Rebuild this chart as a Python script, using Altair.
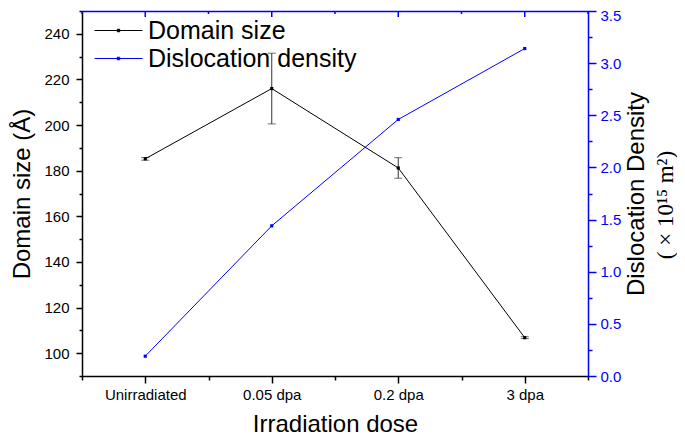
import json
import altair as alt
import pandas as pd

# ---------------- data ----------------
doses = ["Unirradiated", "0.05 dpa", "0.2 dpa", "3 dpa"]
dose_pos = [1, 2, 3, 4]
domain_size = [185.2, 216.0, 181.2, 106.8]
domain_err = [0.6, 15.5, 4.5, 0.4]
dislocation = [0.19, 1.44, 2.46, 3.14]

left_major_ticks = [100, 120, 140, 160, 180, 200, 220, 240]
left_minor_ticks = [90, 110, 130, 150, 170, 190, 210, 230, 250]
right_major_ticks = [0.0, 0.5, 1.0, 1.5, 2.0, 2.5, 3.0, 3.5]
right_minor_ticks = [0.25, 0.75, 1.25, 1.75, 2.25, 2.75, 3.25]
x_minor_ticks = [0.5, 1.5, 2.5, 3.5, 4.5]

series_names = ["Domain size", "Dislocation density"]
series_colors = ["black", "#0000ff"]

right_title_line2 = ["( \u00d7  10\u00b9\u2075  m\u00b2)"]

df = pd.DataFrame({"pos": dose_pos, "dose": doses, "domain": domain_size,
                   "err": domain_err, "disloc": dislocation})
df["lo"] = df["domain"] - df["err"]
df["hi"] = df["domain"] + df["err"]
minor_df = pd.DataFrame({"pos": x_minor_ticks})
title_df = pd.DataFrame({"t": right_title_line2})

# ---------------- styling ----------------
W, H = 506, 365
FONT = "Liberation Sans"
BLUE = "#0000ff"

def xs():
    return alt.Scale(domain=[0.5, 4.5], nice=False, zero=False)

def yls():
    return alt.Scale(domain=[90, 250], nice=False, zero=False)

def yrs():
    return alt.Scale(domain=[0, 3.5], nice=False, zero=False)

color_scale = alt.Scale(domain=series_names, range=series_colors)

label_expr = json.dumps(doses) + "[round(datum.value) - 1]"

legend = alt.Legend(
    orient="none", legendX=24, legendY=7, title=None,
    symbolType="M-4.8,0H4.8M-0.25,-0.25H0.25V0.25H-0.25Z",
    symbolSize=100, symbolStrokeWidth=1, symbolFillColor="transparent",
    labelFont=FONT, labelFontSize=25, labelColor="black",
    labelOffset=17, rowPadding=2, padding=0, labelLimit=400,
)

x_bottom = alt.Axis(
    orient="bottom", values=dose_pos, labelExpr=label_expr, title="Irradiation dose",
    tickSize=7, tickWidth=1.5, tickColor="black", domainWidth=1.5, domainColor="black",
    labelFont=FONT, labelFontSize=15, labelColor="black", labelPadding=4,
    titleFont=FONT, titleFontSize=24, titleFontWeight="normal", titleColor="black",
    titlePadding=10, grid=False,
)
x_bottom_minor = alt.Axis(
    orient="bottom", values=x_minor_ticks, labels=False, domain=False, title=None,
    tickSize=4, tickWidth=1.5, tickColor="black", grid=False,
)
x_top = alt.Axis(
    orient="top", values=dose_pos, labels=False, ticks=False, title=None,
    domainColor=BLUE, domainWidth=1.5, grid=False,
)
y_left = alt.Axis(
    orient="left", values=left_major_ticks, format="d", title="Domain size (\u00c5)",
    tickSize=6, tickWidth=1.5, tickColor="black", domainWidth=1.5, domainColor="black",
    labelFont=FONT, labelFontSize=15, labelColor="black", labelPadding=7,
    titleFont=FONT, titleFontSize=24, titleFontWeight="normal", titleColor="black",
    titlePadding=9, grid=False,
)
y_left_minor = alt.Axis(
    orient="left", values=left_minor_ticks, labels=False, domain=False, title=None,
    tickSize=3, tickWidth=1.5, tickColor="black", grid=False,
)
y_right = alt.Axis(
    orient="right", values=right_major_ticks, format=".1f", title="Dislocation Density",
    tickSize=8, tickWidth=1.5, tickColor=BLUE, domainWidth=1.5, domainColor=BLUE,
    labelFont=FONT, labelFontSize=15, labelColor=BLUE, labelPadding=4,
    labelOffset={"condition": {"test": "datum.value >= 3.5", "value": 4}, "value": 0},
    titleFont=FONT, titleFontSize=24, titleFontWeight="normal", titleColor="black",
    titleAngle=270, titleBaseline="top", titlePadding=4, grid=False,
)
y_right_minor = alt.Axis(
    orient="right", values=right_minor_ticks, labels=False, domain=False, title=None,
    tickSize=4, tickWidth=1.5, tickColor=BLUE, grid=False,
)

base = alt.Chart(df)

# ---------------- domain size (left axis) ----------------
ds_err = base.mark_rule(color="#333333", strokeWidth=1).encode(
    x=alt.X("pos:Q", scale=xs(), axis=None),
    y=alt.Y("lo:Q", scale=yls(), axis=None),
    y2="hi:Q",
)
ds_cap_lo = base.mark_tick(color="#333333", thickness=1, size=8, orient="horizontal").encode(
    x=alt.X("pos:Q", scale=xs(), axis=None),
    y=alt.Y("lo:Q", scale=yls(), axis=None),
)
ds_cap_hi = base.mark_tick(color="#333333", thickness=1, size=8, orient="horizontal").encode(
    x=alt.X("pos:Q", scale=xs(), axis=None),
    y=alt.Y("hi:Q", scale=yls(), axis=None),
)
ds_line = base.transform_calculate(series="'Domain size'").mark_line(
    strokeWidth=1,
    point=alt.OverlayMarkDef(filled=True, size=10, shape="square"),
).encode(
    x=alt.X("pos:Q", scale=xs(), axis=x_bottom),
    y=alt.Y("domain:Q", scale=yls(), axis=y_left),
    color=alt.Color("series:N", scale=color_scale, legend=legend),
)

# ---------------- dislocation density (right axis) ----------------
dd_line = base.transform_calculate(series="'Dislocation density'").mark_line(
    strokeWidth=1,
    point=alt.OverlayMarkDef(filled=True, size=10, shape="square"),
).encode(
    x=alt.X("pos:Q", scale=xs(), axis=None),
    y=alt.Y("disloc:Q", scale=yrs(), axis=y_right),
    color=alt.Color("series:N", scale=color_scale, legend=legend),
)

# ---------------- minor ticks / frame ----------------
left_minor = base.mark_point(opacity=0).encode(
    y=alt.Y("domain:Q", scale=yls(), axis=y_left_minor),
)
right_minor = base.mark_point(opacity=0).encode(
    y=alt.Y("disloc:Q", scale=yrs(), axis=y_right_minor),
)
bottom_minor = alt.Chart(minor_df).mark_point(opacity=0).encode(
    x=alt.X("pos:Q", scale=xs(), axis=x_bottom_minor),
)
top_major = base.mark_rule(color=BLUE, strokeWidth=1.5).encode(
    x=alt.X("pos:Q", scale=xs(), axis=x_top),
    y=alt.value(0), y2=alt.value(6),
)
top_minor = alt.Chart(minor_df).mark_rule(color=BLUE, strokeWidth=1.5).encode(
    x=alt.X("pos:Q", scale=xs(), axis=None),
    y=alt.value(0), y2=alt.value(3),
)
title2 = alt.Chart(title_df).mark_text(
    font="Liberation Serif", fontSize=23, angle=270, align="center",
    baseline="middle", color="black",
).encode(x=alt.value(W + 78), y=alt.value(194), text="t:N")

chart = alt.layer(
    ds_err, ds_cap_lo, ds_cap_hi, ds_line, dd_line,
    left_minor, right_minor, bottom_minor, top_major, top_minor, title2
).resolve_scale(
    y="independent"
).resolve_axis(
    x="independent", y="independent"
).properties(
    width=W, height=H, background="white",
    autosize=alt.AutoSizeParams(type="none"),
    padding={"left": 74, "top": 3, "right": 89, "bottom": 59},
).configure_view(stroke=None)

chart.save("out.html", embed_options={"renderer": "svg", "actions": False})
